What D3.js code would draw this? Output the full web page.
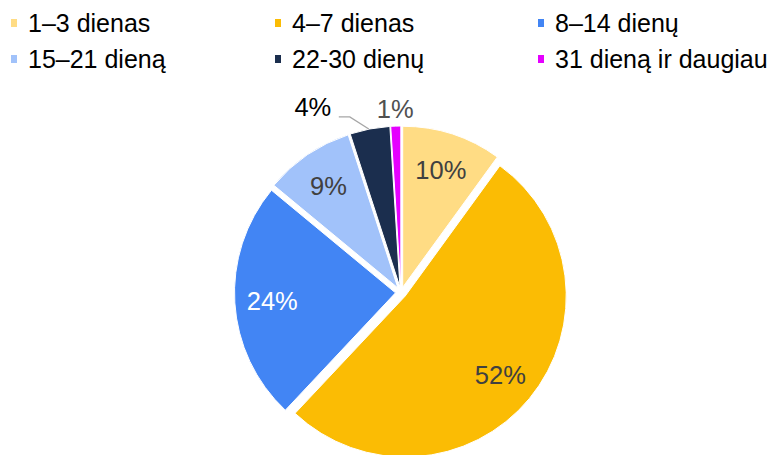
<!DOCTYPE html>
<html>
<head>
<meta charset="utf-8">
<script src="https://cdn.jsdelivr.net/npm/d3@7"></script>
<style>
  body { margin: 0; background: #fff; }
  svg { display: block; font-family: "Liberation Sans", Arial, sans-serif; }
</style>
</head>
<body>
<div id="chart"></div>
<script>
// Pie — trukmės pasiskirstymas
const CATEGORIES = ["1–3 dienas", "4–7 dienas", "8–14 dienų", "15–21 dieną", "22-30 dienų", "31 dieną ir daugiau"];
const VALUES = [10, 52, 24, 9, 4, 1];
const COLORS = ["#FFDC84", "#FBBC04", "#4285F4", "#A1C2FA", "#1B2E4E", "#E500FF"];
const LABEL_FILL = ["#404040", "#404040", "#ffffff", "#404040", "#000000", "#505050"];

const W = 783, H = 455;
const cx = 401, cy = 292.5, R = 161, explode = 5.5;

const svg = d3.select("#chart").append("svg").attr("width", W).attr("height", H);

// legend, 3 columns x 2 rows
const colX = [11, 275, 538], rowY = [32, 68];
const legend = svg.append("g");
CATEGORIES.forEach((c, i) => {
    const x = colX[i % 3], y = rowY[Math.floor(i / 3)];
    legend.append("rect").attr("x", x).attr("y", y - 13).attr("width", 6).attr("height", 8).attr("fill", COLORS[i]);
    legend.append("text").attr("x", x + 17).attr("y", y)
        .style("font-size", "25px").attr("fill", "#000").text(c);
});

const pie = d3.pie().sort(null).value(d => d)(VALUES);
const arc = d3.arc().innerRadius(0).outerRadius(R);
const g = svg.append("g").attr("transform", `translate(${cx},${cy})`);

const mid = d => (d.startAngle + d.endAngle) / 2;
const off = d => [Math.sin(mid(d)) * explode, -Math.cos(mid(d)) * explode];

g.selectAll("path").data(pie).enter().append("path")
    .attr("transform", d => `translate(${off(d)})`)
    .attr("d", arc)
    .attr("fill", (d, i) => COLORS[i])
    .attr("stroke", "#fff").attr("stroke-width", 1);

// inside labels
const inner = d3.arc().innerRadius(129).outerRadius(129);
pie.forEach((d, i) => {
    if (d.value < 5) return;
    const [x, y] = inner.centroid(d);
    g.append("text").attr("x", x).attr("y", y)
        .attr("text-anchor", "middle").attr("dominant-baseline", "central")
        .style("font-size", "25.5px").attr("fill", LABEL_FILL[i]).text(d.value + "%");
});

// outside labels for the small slices
const outer = d3.arc().innerRadius(R + 23).outerRadius(R + 23);
const small = pie.map((d, i) => ({ d, i })).filter(o => o.d.value < 5);
small.forEach(({ d, i }, k) => {
    let [x, y] = outer.centroid(d);
    const last = k === small.length - 1;
    if (!last) {
        // push left to clear the neighbour label, add leader line
        const [ox, oy] = off(d);
        const ex = ox + Math.sin(mid(d)) * R, ey = oy - Math.cos(mid(d)) * R;
        x = ex - 57; y = ey - 22;
        g.append("polyline")
            .attr("points", [[x + 26, y + 10], [x + 37, y + 10], [ex - 1, ey]].map(p => p.join(",")).join(" "))
            .attr("fill", "none").attr("stroke", "#A6A6A6").attr("stroke-width", 1.3);
    }
    g.append("text").attr("x", x).attr("y", y)
        .attr("text-anchor", "middle").attr("dominant-baseline", "central")
        .style("font-size", "25.5px").attr("fill", LABEL_FILL[i]).text(d.value + "%");
});
</script>
</body>
</html>
